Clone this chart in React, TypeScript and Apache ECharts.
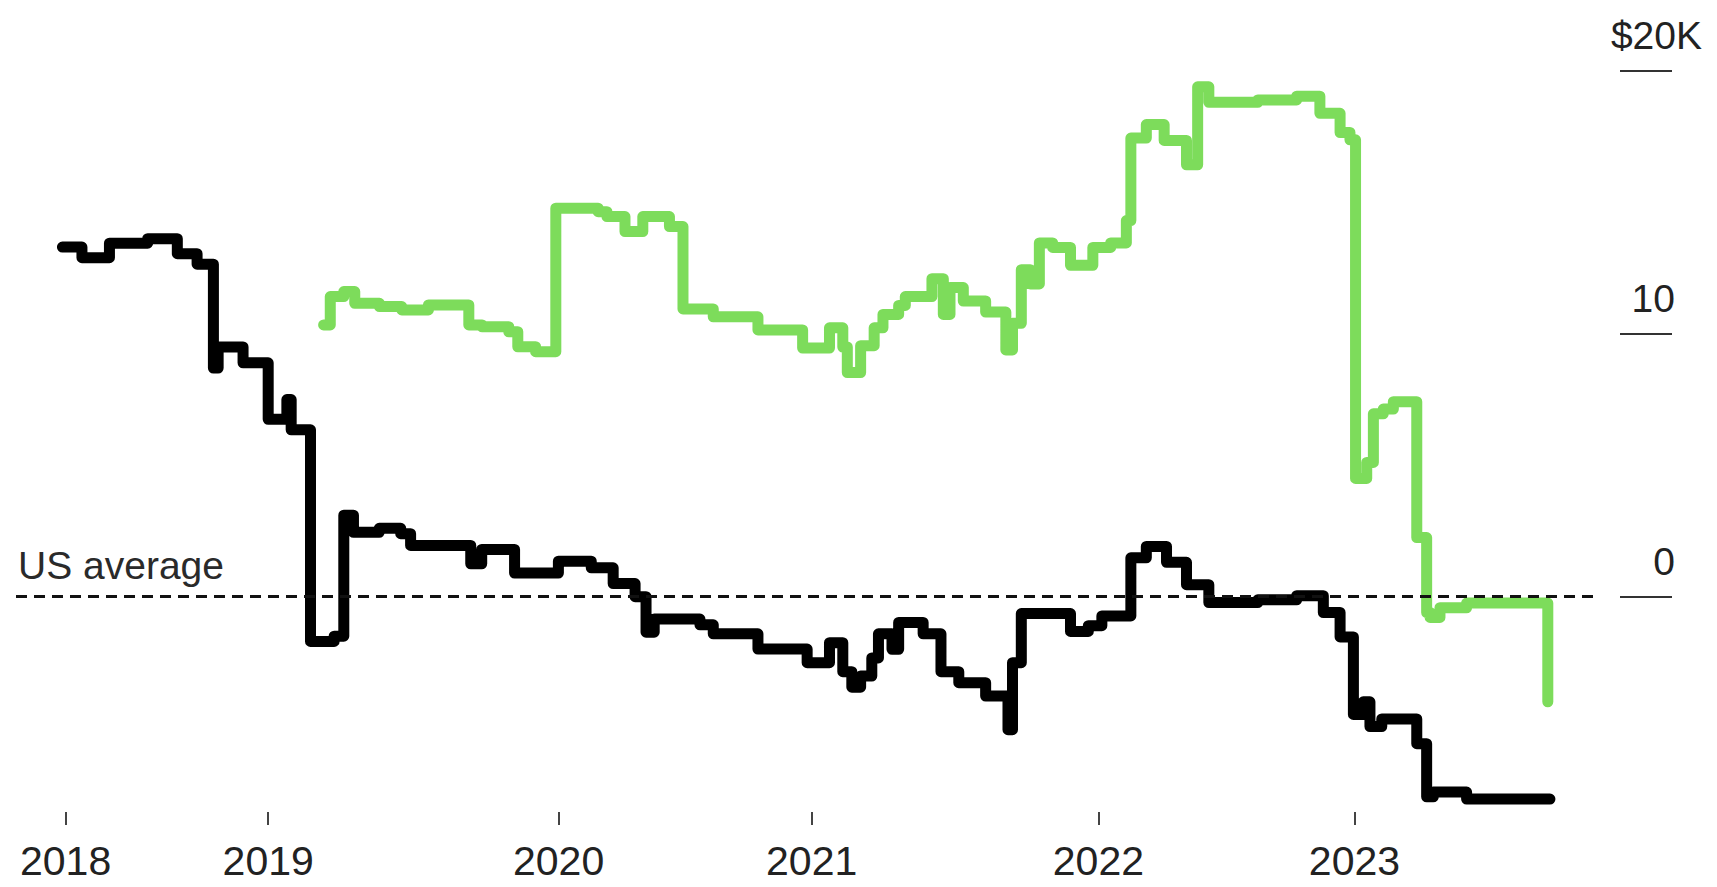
import React, { useEffect, useRef } from "react";
import * as echarts from "echarts";

// x unit: months after the 2018 tick (axis is linear in this unit)
const yearLabels = ["2018", "2019", "2020", "2021", "2022", "2023"];
const yearTickMonths = [0, 9.43, 22.95, 34.73, 48.08, 60];
const yTickValues = [0, 10, 20];

const blackMonths = [
  -0.15, 0.76, 2.04, 3.82, 5.2, 6.12, 6.88, 7.1, 8.26, 9.43, 10.3, 10.5, 11.4, 12.5, 12.95, 13.4, 14.6, 15.6,
  16.06, 18.86, 19.37, 20.9, 22.94, 24.47, 25.49, 26.51, 27.02, 27.4, 29.53, 30.15, 32.23, 34.52, 35.56, 36.18,
  36.6, 37.01, 37.53, 37.84, 38.47, 38.78, 39.92, 40.75, 41.58, 42.83, 43.87, 44.08, 44.49, 46.78, 47.61, 48.24,
  49.59, 50.31, 51.25, 52.18, 53.22, 55.5, 57.31, 58.55, 59.33, 59.95, 60.41, 60.72, 61.27, 62.9, 63.36, 63.67,
  65.22, 69.1,
];
const blackValues = [
  13.3, 12.9, 13.45, 13.62, 13.05, 12.65, 8.7, 9.5, 8.9, 6.75, 7.5, 6.35, -1.7, -1.5, 3.1, 2.45, 2.6, 2.4,
  1.95, 1.25, 1.8, 0.9, 1.35, 1.1, 0.5, 0.0, -1.35, -0.85, -1.07, -1.41, -1.99, -2.51, -1.75, -2.85,
  -3.44, -3.02, -2.33, -1.41, -2.0, -0.98, -1.41, -2.85, -3.27, -3.78, -5.06, -2.51, -0.64, -1.32, -1.1, -0.73,
  1.48, 1.91, 1.31, 0.46, -0.22, -0.12, 0.04, -0.6, -1.53, -4.48, -4.0, -4.94, -4.65, -5.59, -7.61, -7.43,
  -7.7, -7.7,
];

const greenMonths = [
  12.01, 12.32, 12.95, 13.46, 14.61, 15.65, 16.89, 18.77, 19.39, 20.63, 21.05, 21.88, 22.82, 24.79, 25.2, 26.04,
  26.87, 28.11, 28.74, 30.15, 32.23, 34.31, 35.56, 36.18, 36.39, 37.01, 37.64, 38.05, 38.78, 39.09, 40.33, 40.86,
  41.17, 41.79, 42.83, 43.77, 44.08, 44.49, 44.91, 45.33, 45.95, 46.78, 47.82, 48.65, 49.38, 49.59, 50.31, 51.14,
  52.18, 52.7, 53.22, 55.5, 57.31, 58.39, 59.33, 59.79, 60.05, 60.57, 60.88, 61.34, 61.81, 62.9, 63.36, 63.52,
  63.98, 65.22, 69.0,
];
const greenValues = [
  10.34, 11.42, 11.61, 11.16, 11.04, 10.91, 11.1, 10.34, 10.27, 10.08, 9.51, 9.32, 14.78, 14.65, 14.46, 13.89,
  14.46, 14.08, 10.95, 10.65, 10.15, 9.46, 10.23, 9.5, 8.53, 9.55, 10.23, 10.74, 11.08, 11.42, 12.1, 10.74,
  11.76, 11.25, 10.83, 9.39, 10.4, 12.44, 11.9, 13.46, 13.29, 12.61, 13.29, 13.46, 14.31, 17.45, 17.96, 17.36,
  16.43, 19.4, 18.81, 18.9, 19.04, 18.39, 17.66, 17.38, 4.5, 5.11, 6.96, 7.14, 7.42, 2.25, -0.6, -0.79,
  -0.42, -0.24, -4.0,
];

const usAverage = 0;

const TEXT = "#222222";
const FONT = "'Liberation Sans', Arial, Helvetica, sans-serif";

export default function App() {
  const ref = useRef<HTMLDivElement>(null);

  useEffect(() => {
    if (!ref.current) return;
    const chart = echarts.init(ref.current, undefined, { renderer: "svg" });
    const toPairs = (xs: number[], ys: number[]) => xs.map((x, i) => [x, ys[i]]);
    const yearFor = (v: number) => {
      let best = 0;
      for (let i = 1; i < yearTickMonths.length; i++) {
        if (Math.abs(yearTickMonths[i] - v) < Math.abs(yearTickMonths[best] - v)) best = i;
      }
      return yearLabels[best];
    };

    chart.setOption({
      animation: false,
      backgroundColor: "#ffffff",
      textStyle: { fontFamily: FONT },
      grid: { left: 16, right: 117, top: 71, bottom: 75, containLabel: false },
      xAxis: {
        type: "value",
        min: -2.31,
        max: 71.43,
        axisLine: { show: false, onZero: false },
        splitLine: { show: false },
        axisTick: {
          show: true,
          customValues: yearTickMonths,
          length: 13,
          lineStyle: { color: "#444", width: 2 },
        },
        axisLabel: {
          customValues: yearTickMonths,
          formatter: (v: number) => yearFor(v),
          margin: 28,
          fontSize: 41,
          color: TEXT,
          fontFamily: FONT,
          verticalAlign: "top",
        },
      },
      yAxis: {
        type: "value",
        position: "right",
        offset: 20,
        min: -8.19,
        max: 20,
        axisLine: { show: false, onZero: false },
        splitLine: { show: false },
        axisTick: {
          show: true,
          customValues: yTickValues,
          length: 52,
          lineStyle: { color: "#333", width: 2 },
        },
        axisLabel: {
          customValues: yTickValues,
          margin: 82,
          align: "right",
          verticalAlign: "bottom",
          padding: [0, 0, 16, 0],
          formatter: (v: number) => (v === 20 ? "{n|$20K}" : `{n|${v}}{p|}`),
          rich: {
            n: { fontSize: 39, color: TEXT, fontFamily: FONT },
            p: { width: 27 },
          },
        },
      },
      series: [
        {
          name: "Black",
          type: "line",
          step: "end",
          data: toPairs(blackMonths, blackValues),
          showSymbol: false,
          symbol: "none",
          lineStyle: { color: "#000000", width: 11, cap: "round", join: "round" },
          z: 2,
        },
        {
          name: "Green",
          type: "line",
          step: "end",
          data: toPairs(greenMonths, greenValues),
          showSymbol: false,
          symbol: "none",
          lineStyle: { color: "#7ddc5b", width: 11, cap: "round", join: "round" },
          z: 3,
          markLine: {
            silent: true,
            symbol: ["none", "none"],
            z: 10,
            lineStyle: { color: "#111", width: 3, type: [11, 7] },
            label: {
              show: true,
              position: "insideStartTop",
              formatter: "US average",
              fontSize: 39,
              color: "#2a2a2a",
              fontFamily: FONT,
              distance: [2, 12],
            },
            data: [{ yAxis: usAverage }],
          },
        },
      ],
    });

    return () => chart.dispose();
  }, []);

  return (
    <div
      ref={ref}
      style={{ position: "fixed", left: 0, top: 0, width: 1717, height: 887, background: "#fff" }}
    />
  );
}
